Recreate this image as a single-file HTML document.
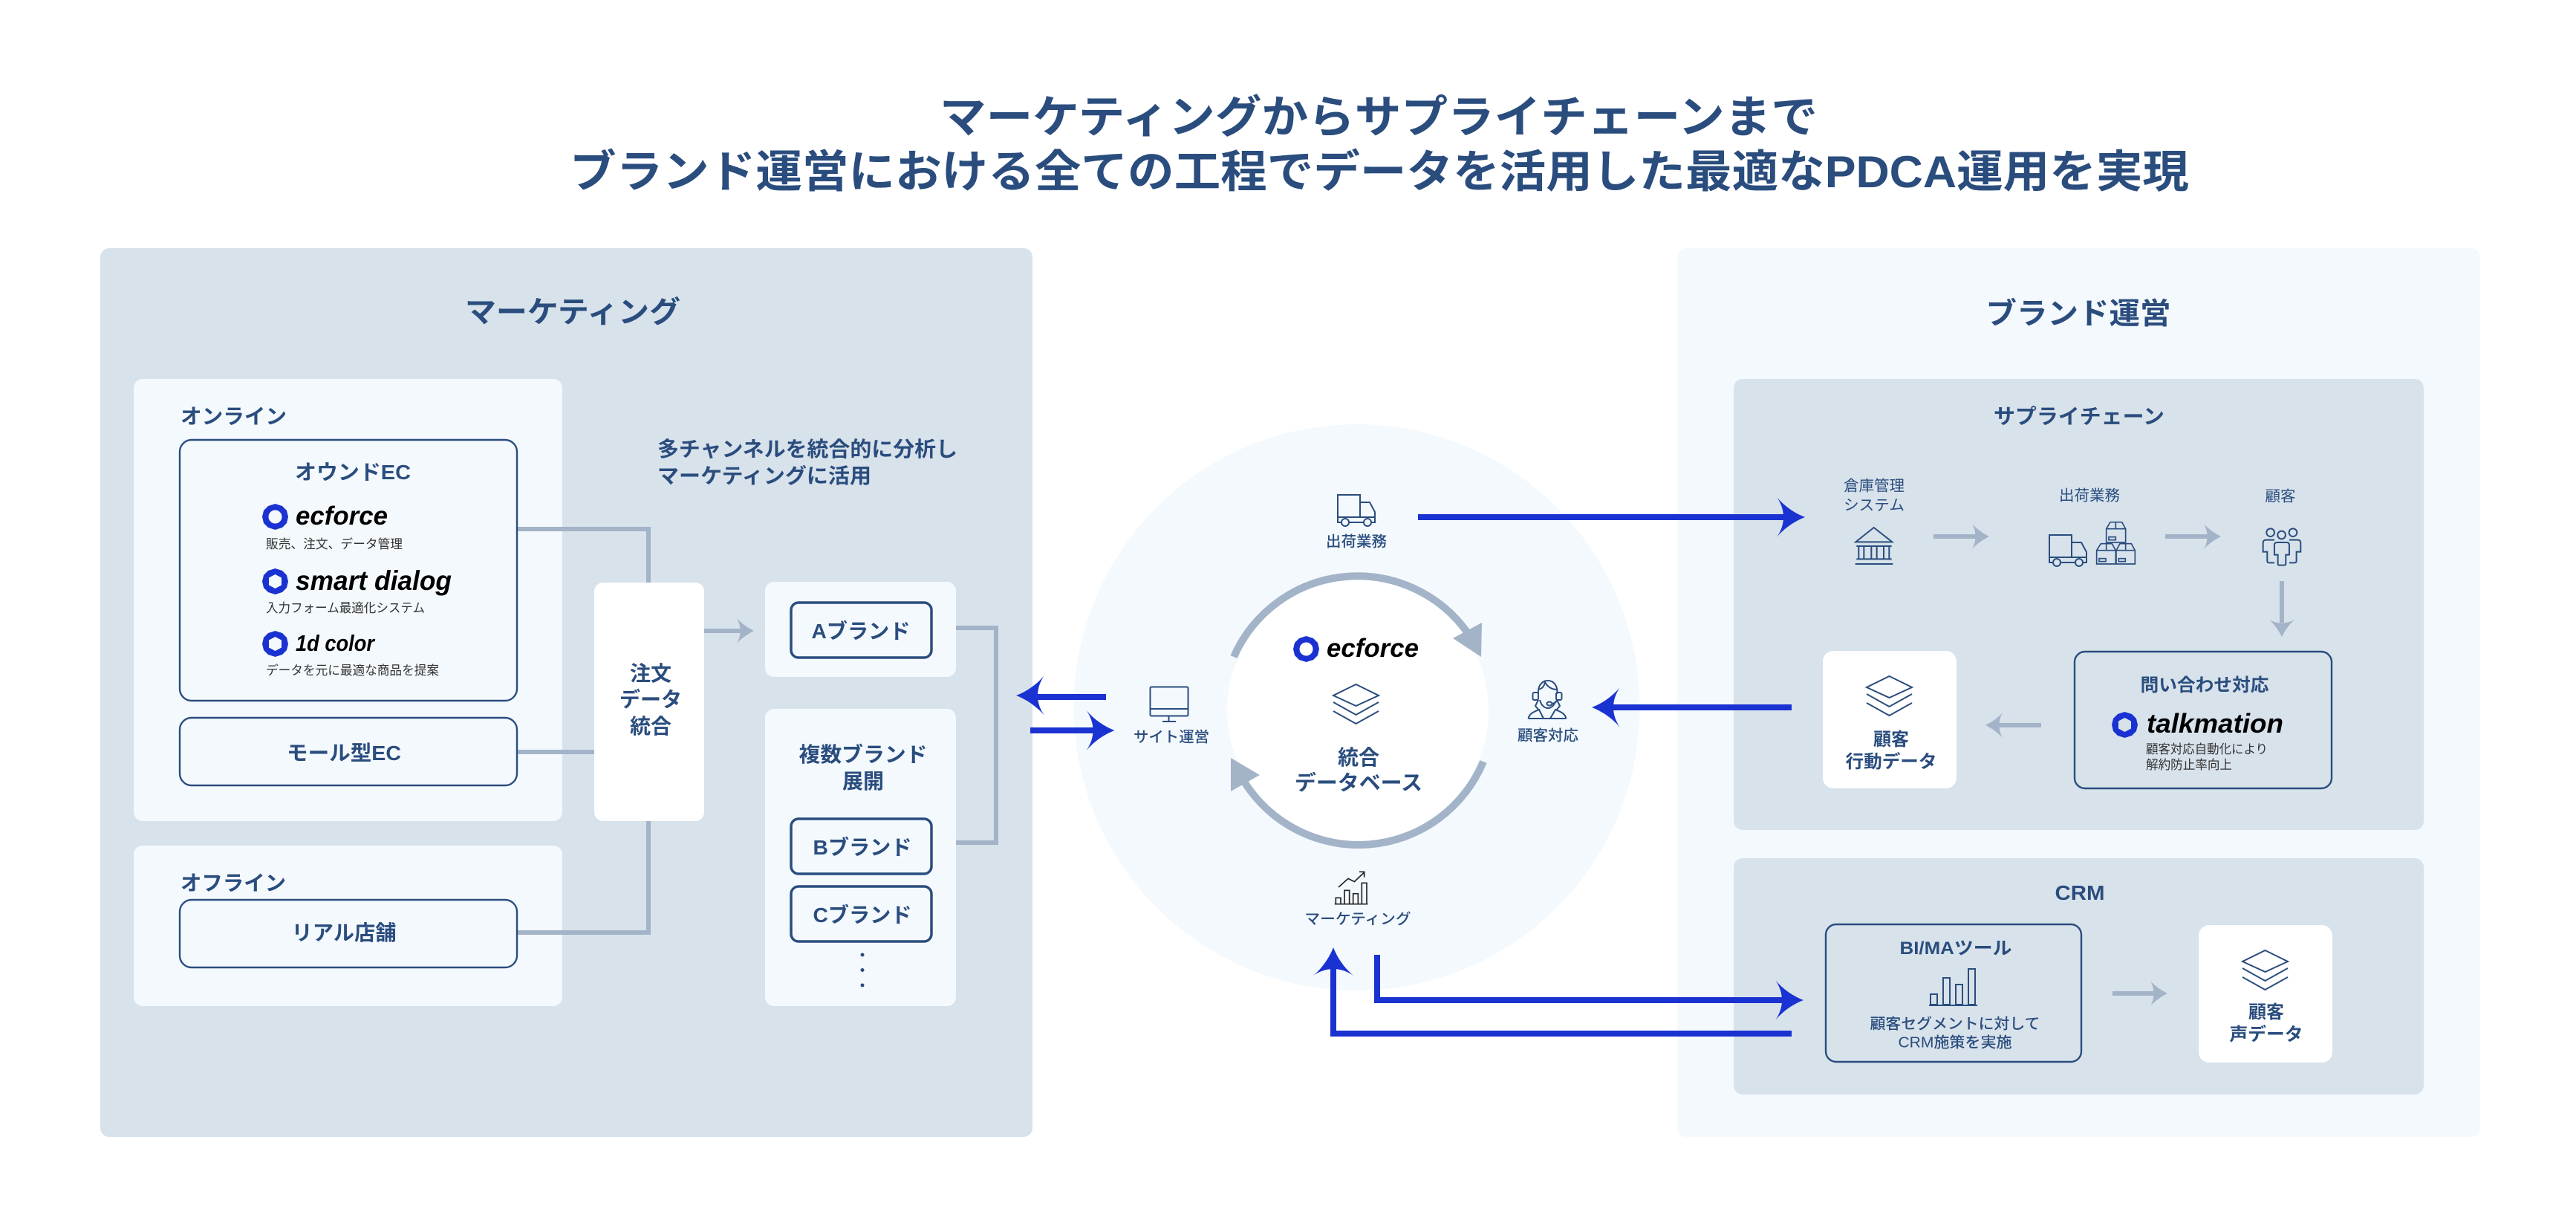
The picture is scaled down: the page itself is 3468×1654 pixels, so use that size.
<!DOCTYPE html>
<html lang="ja"><head><meta charset="utf-8"><title>ブランド運営 PDCA</title>
<style>
html,body{margin:0;padding:0;background:#fff;width:3468px;height:1654px;overflow:hidden}
svg{display:block}
text{font-family:"Liberation Sans","Noto Sans CJK JP",sans-serif;fill:#2a4d7e;dominant-baseline:central;transform:translateY(1.5px)}
.b{font-weight:700}.m{font-weight:500}.c{text-anchor:middle}
.s{fill:#333;font-size:17px}
.l{font-weight:700;font-style:italic}
.n{fill:none;stroke:#2a4d7e;stroke-width:2}
.box{fill:none;stroke:#2a4d7e;stroke-width:2.4}
.g{fill:none;stroke:#a3b3c8;stroke-width:6}
.bl{fill:none;stroke:#1a32d1;stroke-width:8}
</style></head><body>
<svg width="3468" height="1654" viewBox="0 0 3468 1654" xmlns="http://www.w3.org/2000/svg">
<defs>
<path id="ah" fill="#1a32d1" d="M0 0C-13-5-27-14-38-27C-26-10-26 10-38 27C-27 14-13 5 0 0Z"/>
<path id="gh" fill="#a3b3c8" d="M0 0C-8-4-17-10-23-17C-17-6-17 6-23 17C-17 10-8 4 0 0Z"/>
<path id="logo" fill="#1a32d1" fill-rule="evenodd" d="M17.500 0L27 3L33 9L35 17.500L33 26L27 32L17.500 35L8 32L2 26L0 17.500L2 9L8 3ZM17.500 8.500A9 9 0 1 0 17.500 26.500A9 9 0 1 0 17.500 8.500Z"/>
<path id="logo2" fill="#1a32d1" fill-rule="evenodd" d="M17.500 0L27 3L33 9L35 17.500L33 26L27 32L17.500 35L8 32L2 26L0 17.500L2 9L8 3ZM17.500 8L26 12.500V22.500L17.500 27L9 22.500V12.500Z"/>
<g id="stack" class="n"><path d="M30.500 0L61 15L30.500 29L0 15Z"/><path d="M0 24L30.500 41L61 24"/><path d="M0 36L30.500 53L61 36"/></g>
<g id="truck" class="n" stroke-width="2.300"><path d="M1 31V1H31V31M1 31H51M1 31V38H6M16 38H36M46 38H51V24L44 11H31"/><circle cx="11" cy="38" r="5"/><circle cx="41" cy="38" r="5"/></g>
</defs>

<!-- title -->
<text x="1856" y="156.500" class="b c" font-size="60" textLength="1182" lengthAdjust="spacingAndGlyphs">マーケティングからサプライチェーンまで</text>
<text x="1857" y="230" class="b c" font-size="60" textLength="2180" lengthAdjust="spacingAndGlyphs">ブランド運営における全ての工程でデータを活用した最適なPDCA運用を実現</text>

<!-- panels -->
<rect x="135" y="334" width="1255" height="1196" rx="12" fill="#d8e2eb"/>
<rect x="2258" y="334" width="1081" height="1196" rx="12" fill="#f4f9fd"/>
<circle cx="1826.500" cy="952" r="381" fill="#f4f9fd"/>
<circle cx="1828" cy="956" r="176" fill="#fff"/>

<text x="771" y="419" class="b c" font-size="40" textLength="290" lengthAdjust="spacingAndGlyphs">マーケティング</text>
<text x="2798" y="421" class="b c" font-size="40" textLength="249" lengthAdjust="spacingAndGlyphs">ブランド運営</text>

<!-- left containers -->
<rect x="180" y="510" width="577" height="595" rx="12" fill="#f4f9fd"/>
<rect x="180" y="1138" width="577" height="216" rx="12" fill="#f4f9fd"/>
<rect x="1030" y="783" width="257" height="128" rx="12" fill="#f4f9fd"/>
<rect x="1030" y="954" width="257" height="400" rx="12" fill="#f4f9fd"/>

<!-- left connectors -->
<path class="g" d="M696 712H873V784M696 1012H800M873 1105V1255H696M1287 845H1341V1134H1287"/>
<path class="g" d="M948 849H998"/><use href="#gh" x="1015" y="849"/>
<rect x="800" y="784" width="148" height="321" rx="12" fill="#fff"/>

<text x="243" y="559" class="b" font-size="28" textLength="143" lengthAdjust="spacingAndGlyphs">オンライン</text>
<rect class="box" x="242" y="592" width="454" height="351" rx="16"/>
<text x="475" y="634" class="b c" font-size="28" textLength="156" lengthAdjust="spacingAndGlyphs">オウンドEC</text>

<use href="#logo" x="353" y="678"/>
<text x="398" y="693" class="l" font-size="35" textLength="124" lengthAdjust="spacingAndGlyphs" style="fill:#000">ecforce</text>
<text x="358" y="731" class="s" textLength="184" lengthAdjust="spacingAndGlyphs">販売、注文、データ管理</text>
<use href="#logo2" x="353" y="765"/>
<text x="398" y="780" class="l" font-size="37" textLength="210" lengthAdjust="spacingAndGlyphs" style="fill:#000">smart dialog</text>
<text x="358" y="817" class="s" textLength="214" lengthAdjust="spacingAndGlyphs">入力フォーム最適化システム</text>
<use href="#logo2" x="353" y="849"/>
<text x="398" y="864" class="l" font-size="31" textLength="106" lengthAdjust="spacingAndGlyphs" style="fill:#000">1d color</text>
<text x="358" y="901" class="s" textLength="233" lengthAdjust="spacingAndGlyphs">データを元に最適な商品を提案</text>

<rect class="box" x="242" y="966" width="454" height="91" rx="16"/>
<text x="463" y="1012" class="b c" font-size="28" textLength="154" lengthAdjust="spacingAndGlyphs">モール型EC</text>

<text x="243" y="1187" class="b" font-size="28" textLength="142" lengthAdjust="spacingAndGlyphs">オフライン</text>
<rect class="box" x="242" y="1211" width="454" height="91" rx="16"/>
<text x="463" y="1254" class="b c" font-size="28" textLength="141" lengthAdjust="spacingAndGlyphs">リアル店舗</text>

<text x="876" y="905" class="b c" font-size="28">注文</text>
<text x="876" y="940" class="b c" font-size="28" textLength="84" lengthAdjust="spacingAndGlyphs">データ</text>
<text x="876" y="976" class="b c" font-size="28">統合</text>

<text x="885" y="603" class="b" font-size="28" textLength="404" lengthAdjust="spacingAndGlyphs">多チャンネルを統合的に分析し</text>
<text x="885" y="639" class="b" font-size="28" textLength="288" lengthAdjust="spacingAndGlyphs">マーケティングに活用</text>

<rect x="1065" y="811" width="189" height="74" rx="10" fill="none" stroke="#2a4d7e" stroke-width="3.500"/>
<text x="1159" y="848" class="b c" font-size="28" textLength="133" lengthAdjust="spacingAndGlyphs">Aブランド</text>
<text x="1162" y="1014" class="b c" font-size="28" textLength="173" lengthAdjust="spacingAndGlyphs">複数ブランド</text>
<text x="1162" y="1050" class="b c" font-size="28">展開</text>
<rect x="1065" y="1102" width="189" height="74" rx="10" fill="none" stroke="#2a4d7e" stroke-width="3.500"/>
<text x="1161" y="1139" class="b c" font-size="28" textLength="133" lengthAdjust="spacingAndGlyphs">Bブランド</text>
<rect x="1065" y="1193" width="189" height="74" rx="10" fill="none" stroke="#2a4d7e" stroke-width="3.500"/>
<text x="1161" y="1230" class="b c" font-size="28" textLength="133" lengthAdjust="spacingAndGlyphs">Cブランド</text>
<circle cx="1161" cy="1285" r="2.500" fill="#2a4d7e"/><circle cx="1161" cy="1305.500" r="2.500" fill="#2a4d7e"/><circle cx="1161" cy="1326" r="2.500" fill="#2a4d7e"/>

<!-- centre cycle -->
<path fill="none" stroke="#a3b3c8" stroke-width="10" d="M1661 884A182 182 0 0 1 1976 852"/>
<polygon fill="#a3b3c8" points="1956,859 1995,838 1994,884"/>
<path fill="none" stroke="#a3b3c8" stroke-width="10" d="M1997 1025A182 182 0 0 1 1675 1052"/>
<polygon fill="#a3b3c8" points="1657,1020 1696,1043 1657,1065"/>

<use href="#logo" x="1741" y="856"/>
<text x="1786" y="871" class="l" font-size="35" textLength="124" lengthAdjust="spacingAndGlyphs" style="fill:#000">ecforce</text>
<use href="#stack" x="1795" y="921"/>
<text x="1829" y="1018" class="b c" font-size="28">統合</text>
<text x="1829" y="1052" class="b c" font-size="28" textLength="172" lengthAdjust="spacingAndGlyphs">データベース</text>

<!-- centre icons -->
<use href="#truck" x="1800" y="665"/>
<text x="1826" y="728" class="m c" font-size="20" textLength="82" lengthAdjust="spacingAndGlyphs">出荷業務</text>
<g class="n"><rect x="1548.500" y="924.500" width="51" height="39" rx="1.500"/><path d="M1548.500 954H1599.500M1573.500 964V971M1565 971H1583"/></g>
<text x="1577" y="991" class="m c" font-size="20" textLength="102" lengthAdjust="spacingAndGlyphs">サイト運営</text>
<g class="n" transform="translate(2040,900)"><rect x="23.500" y="32" width="7.500" height="10" rx="2"/><rect x="55" y="32" width="7.500" height="10" rx="2"/><path d="M31 34C30 24 35 16 44 16C52 16 58 24 56 34M31 28C36 27 39 24 40 18C43 24 49 28 56 28M33 42C35 50 40 53 44 53C48 53 52 50 54 44M49 47C53 47 55 45 56 42M31 42L27 50L32 56M56 42L60 50L55 56M17.500 67C19 60 25 58 32 55L38 67M68.500 67C67 60 61 58 54 55L47 67M17.500 67H68.500"/><ellipse cx="46" cy="47" rx="3.500" ry="2.500"/></g>
<text x="2084" y="989" class="m c" font-size="20" textLength="82" lengthAdjust="spacingAndGlyphs">顧客対応</text>
<g fill="none" stroke="#222" stroke-width="5" transform="translate(1780,1160) scale(.3333)"><path d="M66 102L105 67L130 80L170 42M150 40H170V62"/><path d="M55 170V145H75V170M90 170V115H110V170M125 170V128H145V170M160 170V85H180V170M50 170H184"/></g>
<text x="1828" y="1236" class="m c" font-size="20" textLength="143" lengthAdjust="spacingAndGlyphs">マーケティング</text>

<!-- right containers -->
<rect x="2334" y="510" width="929" height="607" rx="12" fill="#d8e2eb"/>
<rect x="2334" y="1155" width="929" height="318" rx="12" fill="#d8e2eb"/>

<text x="2799" y="559" class="b c" font-size="28" textLength="230" lengthAdjust="spacingAndGlyphs">サプライチェーン</text>
<text x="2523" y="653" class="c" font-size="20" textLength="82" lengthAdjust="spacingAndGlyphs">倉庫管理</text>
<text x="2523" y="679" class="c" font-size="20" textLength="82" lengthAdjust="spacingAndGlyphs">システム</text>
<text x="2813" y="666" class="c" font-size="20" textLength="82" lengthAdjust="spacingAndGlyphs">出荷業務</text>
<text x="3070" y="667" class="c" font-size="20" textLength="41" lengthAdjust="spacingAndGlyphs">顧客</text>

<g fill="none" stroke="#2a4d7e" stroke-width="6" transform="translate(2470,630) scale(.3333)"><path d="M158 240L85 298H232Z"/><path d="M88 315H230M88 367H230M83 387H235M97 315V367M118 315V367M148 315V367M170 315V367M198 315V367M220 315V367"/></g>
<use href="#truck" x="2758" y="719"/>
<g fill="none" stroke="#2a4d7e" stroke-width="5" transform="translate(2740,690) scale(.3333)"><path d="M303 38H350L365 65V120H287V65ZM287 65H365M325 38V65"/><rect x="297" y="98" width="28" height="12"/><path d="M265 125H310L325 152V207H248V152ZM248 152H325M287 125V152"/><rect x="258" y="185" width="27" height="12"/><path d="M342 125H388L403 152V207H327V152ZM327 152H403M365 125V152"/><rect x="337" y="185" width="27" height="12"/></g>
<g fill="none" stroke="#2a4d7e" stroke-width="6" transform="translate(2740,690) scale(.3333)"><circle cx="950" cy="80" r="16"/><circle cx="1041" cy="80" r="16"/><circle cx="995" cy="90" r="16"/><path d="M966 110H932Q920 110 920 122V158H937V195Q937 202 945 202H966"/><path d="M1026 110H1060Q1072 110 1072 122V158H1055V195Q1055 202 1047 202H1026"/><path d="M978 120H1015Q1026 120 1026 130V170H1012V205Q1012 212 1005 212H987Q980 212 980 205V170H966V130Q966 120 978 120Z"/></g>

<path class="g" d="M2603 722H2660"/><use href="#gh" x="2678" y="722"/>
<path class="g" d="M2915 722H2972"/><use href="#gh" x="2990" y="722"/>
<path class="g" d="M3072 782V838"/><use href="#gh" transform="translate(3072,857) rotate(90)"/>
<path class="g" d="M2748 976H2690"/><use href="#gh" transform="translate(2673,976) rotate(180)"/>

<rect class="box" x="2793" y="877" width="346" height="184" rx="14"/>
<text x="2968" y="921" class="b c" font-size="24" textLength="173" lengthAdjust="spacingAndGlyphs">問い合わせ対応</text>
<use href="#logo2" x="2843" y="958"/>
<text x="2890" y="972" class="l" font-size="36" textLength="184" lengthAdjust="spacingAndGlyphs" style="fill:#000">talkmation</text>
<text x="2889" y="1007" class="s" textLength="164" lengthAdjust="spacingAndGlyphs">顧客対応自動化により</text>
<text x="2889" y="1028" class="s" textLength="116" lengthAdjust="spacingAndGlyphs">解約防止率向上</text>

<rect x="2454" y="876" width="180" height="185" rx="14" fill="#fff"/>
<use href="#stack" x="2513" y="910"/>
<text x="2546" y="994" class="b c" font-size="24">顧客</text>
<text x="2546" y="1024" class="b c" font-size="24" textLength="123" lengthAdjust="spacingAndGlyphs">行動データ</text>

<text x="2800" y="1200" class="b c" font-size="28" textLength="67" lengthAdjust="spacingAndGlyphs">CRM</text>
<rect class="box" x="2458" y="1244" width="344" height="185" rx="14"/>
<text x="2633" y="1275" class="b c" font-size="24" textLength="151" lengthAdjust="spacingAndGlyphs">BI/MAツール</text>
<g class="n" transform="translate(2597,1303)"><rect x="2" y="35" width="9" height="14"/><rect x="19" y="13" width="9" height="36"/><rect x="36" y="22" width="9" height="27"/><rect x="53" y="1" width="9" height="48"/><path d="M0 50H65"/></g>
<text x="2632" y="1377" class="m c" font-size="20" textLength="229" lengthAdjust="spacingAndGlyphs">顧客セグメントに対して</text>
<text x="2632" y="1402" class="m c" font-size="20" textLength="153" lengthAdjust="spacingAndGlyphs">CRM施策を実施</text>

<path class="g" d="M2844 1337H2900"/><use href="#gh" x="2918" y="1337"/>
<rect x="2960" y="1245" width="180" height="185" rx="14" fill="#fff"/>
<use href="#stack" x="3019" y="1279"/>
<text x="3051" y="1361" class="b c" font-size="24">顧客</text>
<text x="3051" y="1391" class="b c" font-size="24" textLength="99" lengthAdjust="spacingAndGlyphs">声データ</text>

<!-- blue arrows -->
<path class="bl" d="M1909 696H2405"/><use href="#ah" x="2430" y="696"/>
<path class="bl" d="M2412 952H2170"/><use href="#ah" transform="translate(2143,952) rotate(180)"/>
<path class="bl" d="M1489 938H1395"/><use href="#ah" transform="translate(1368,936) rotate(180)"/>
<path class="bl" d="M1387 983H1473"/><use href="#ah" x="1500.500" y="983"/>
<path class="bl" d="M1795 1300V1391H2412"/><use href="#ah" transform="translate(1795,1275) rotate(-90)"/>
<path class="bl" d="M1854 1285V1346H2403"/><use href="#ah" x="2428" y="1346"/>
</svg>
</body></html>
